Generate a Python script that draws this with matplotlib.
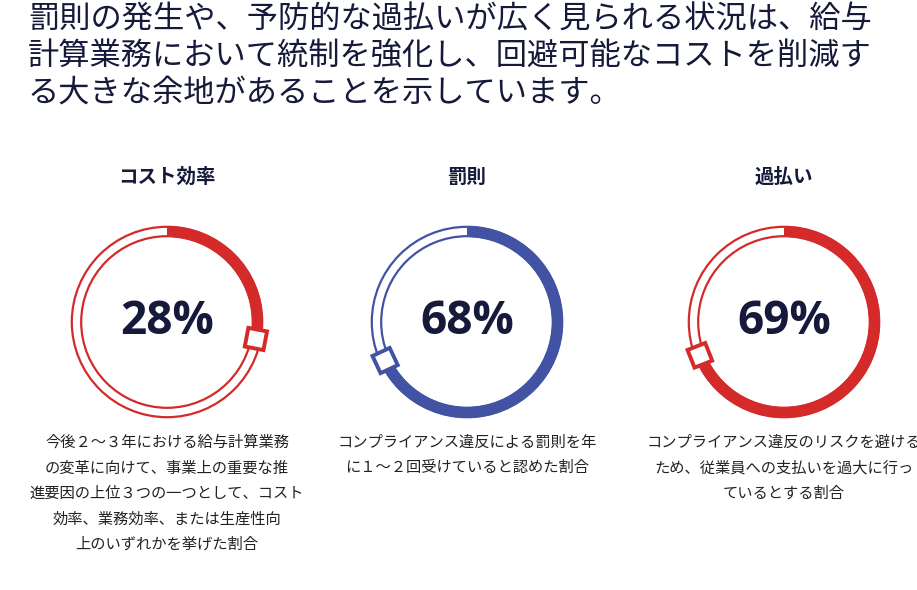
import numpy as np
import matplotlib
matplotlib.use('Agg')
import matplotlib.pyplot as plt
from matplotlib.patches import Wedge, Circle, Rectangle
import matplotlib.transforms as mtransforms

plt.rcParams['font.family'] = ['Noto Sans CJK JP', 'DejaVu Sans']

# --- Data ---
titles = ['コスト効率', '罰則', '過払い']
percents = [28, 68, 69]
colors = ['#d42a2a', '#4253a4', '#d42a2a']
captions = [
    '今後２～３年における給与計算業務\nの変革に向けて、事業上の重要な推\n進要因の上位３つの一つとして、コスト\n効率、業務効率、または生産性向\n上のいずれかを挙げた割合',
    'コンプライアンス違反による罰則を年\nに１～２回受けていると認めた割合',
    'コンプライアンス違反のリスクを避ける\nため、従業員への支払いを過大に行っ\nているとする割合',
]
headline = ('罰則の発生や、予防的な過払いが広く見られる状況は、給与\n'
            '計算業務において統制を強化し、回避可能なコストを削減す\n'
            'る大きな余地があることを示しています。')

navy = '#161a3a'
W, H = 917, 590
fig = plt.figure(figsize=(W / 100, H / 100), dpi=100)
ax = fig.add_axes([0, 0, 1, 1])
ax.set_xlim(0, W)
ax.set_ylim(H, 0)
ax.set_aspect('equal')
ax.axis('off')

ax.text(28, 4, headline, fontsize=22.5, color=navy, va='top', ha='left',
        linespacing=1.17)

centers_x = [167, 467, 784]
cy = 322
r_out, width = 96, 11
r_in = r_out - width

for cx, t, p, c, cap in zip(centers_x, titles, percents, colors, captions):
    ax.text(cx, 177, t, fontsize=14, fontweight='bold', color=navy,
            ha='center', va='center')
    # thin double ring for the remainder
    ax.add_patch(Circle((cx, cy), r_out - 0.8, fill=False, ec=c, lw=1.6))
    ax.add_patch(Circle((cx, cy), r_in + 0.8, fill=False, ec=c, lw=1.6))
    # thick arc, clockwise from top (y axis inverted -> angles flip)
    end = -90 + 360 * p / 100
    ax.add_patch(Wedge((cx, cy), r_out, -90, end, width=width, fc=c, ec='none'))
    # square marker at the arc end
    rm = r_out - width / 2
    a = np.deg2rad(end)
    mx, my = cx + rm * np.cos(a), cy + rm * np.sin(a)
    s = 19
    sq = Rectangle((mx - s / 2, my - s / 2), s, s, fc='white', ec=c, lw=2.8)
    sq.set_transform(mtransforms.Affine2D().rotate_deg_around(mx, my, end) + ax.transData)
    ax.add_patch(sq)
    ax.text(cx, cy, f'{p}%', fontsize=33, fontweight='bold', color=navy,
            ha='center', va='center', family=['Open Sans', 'DejaVu Sans'])
    ax.text(cx, 434, cap, fontsize=11, color='#222222', ha='center', va='top',
            linespacing=1.65)

fig.savefig('out.png', dpi=100, facecolor='white')
